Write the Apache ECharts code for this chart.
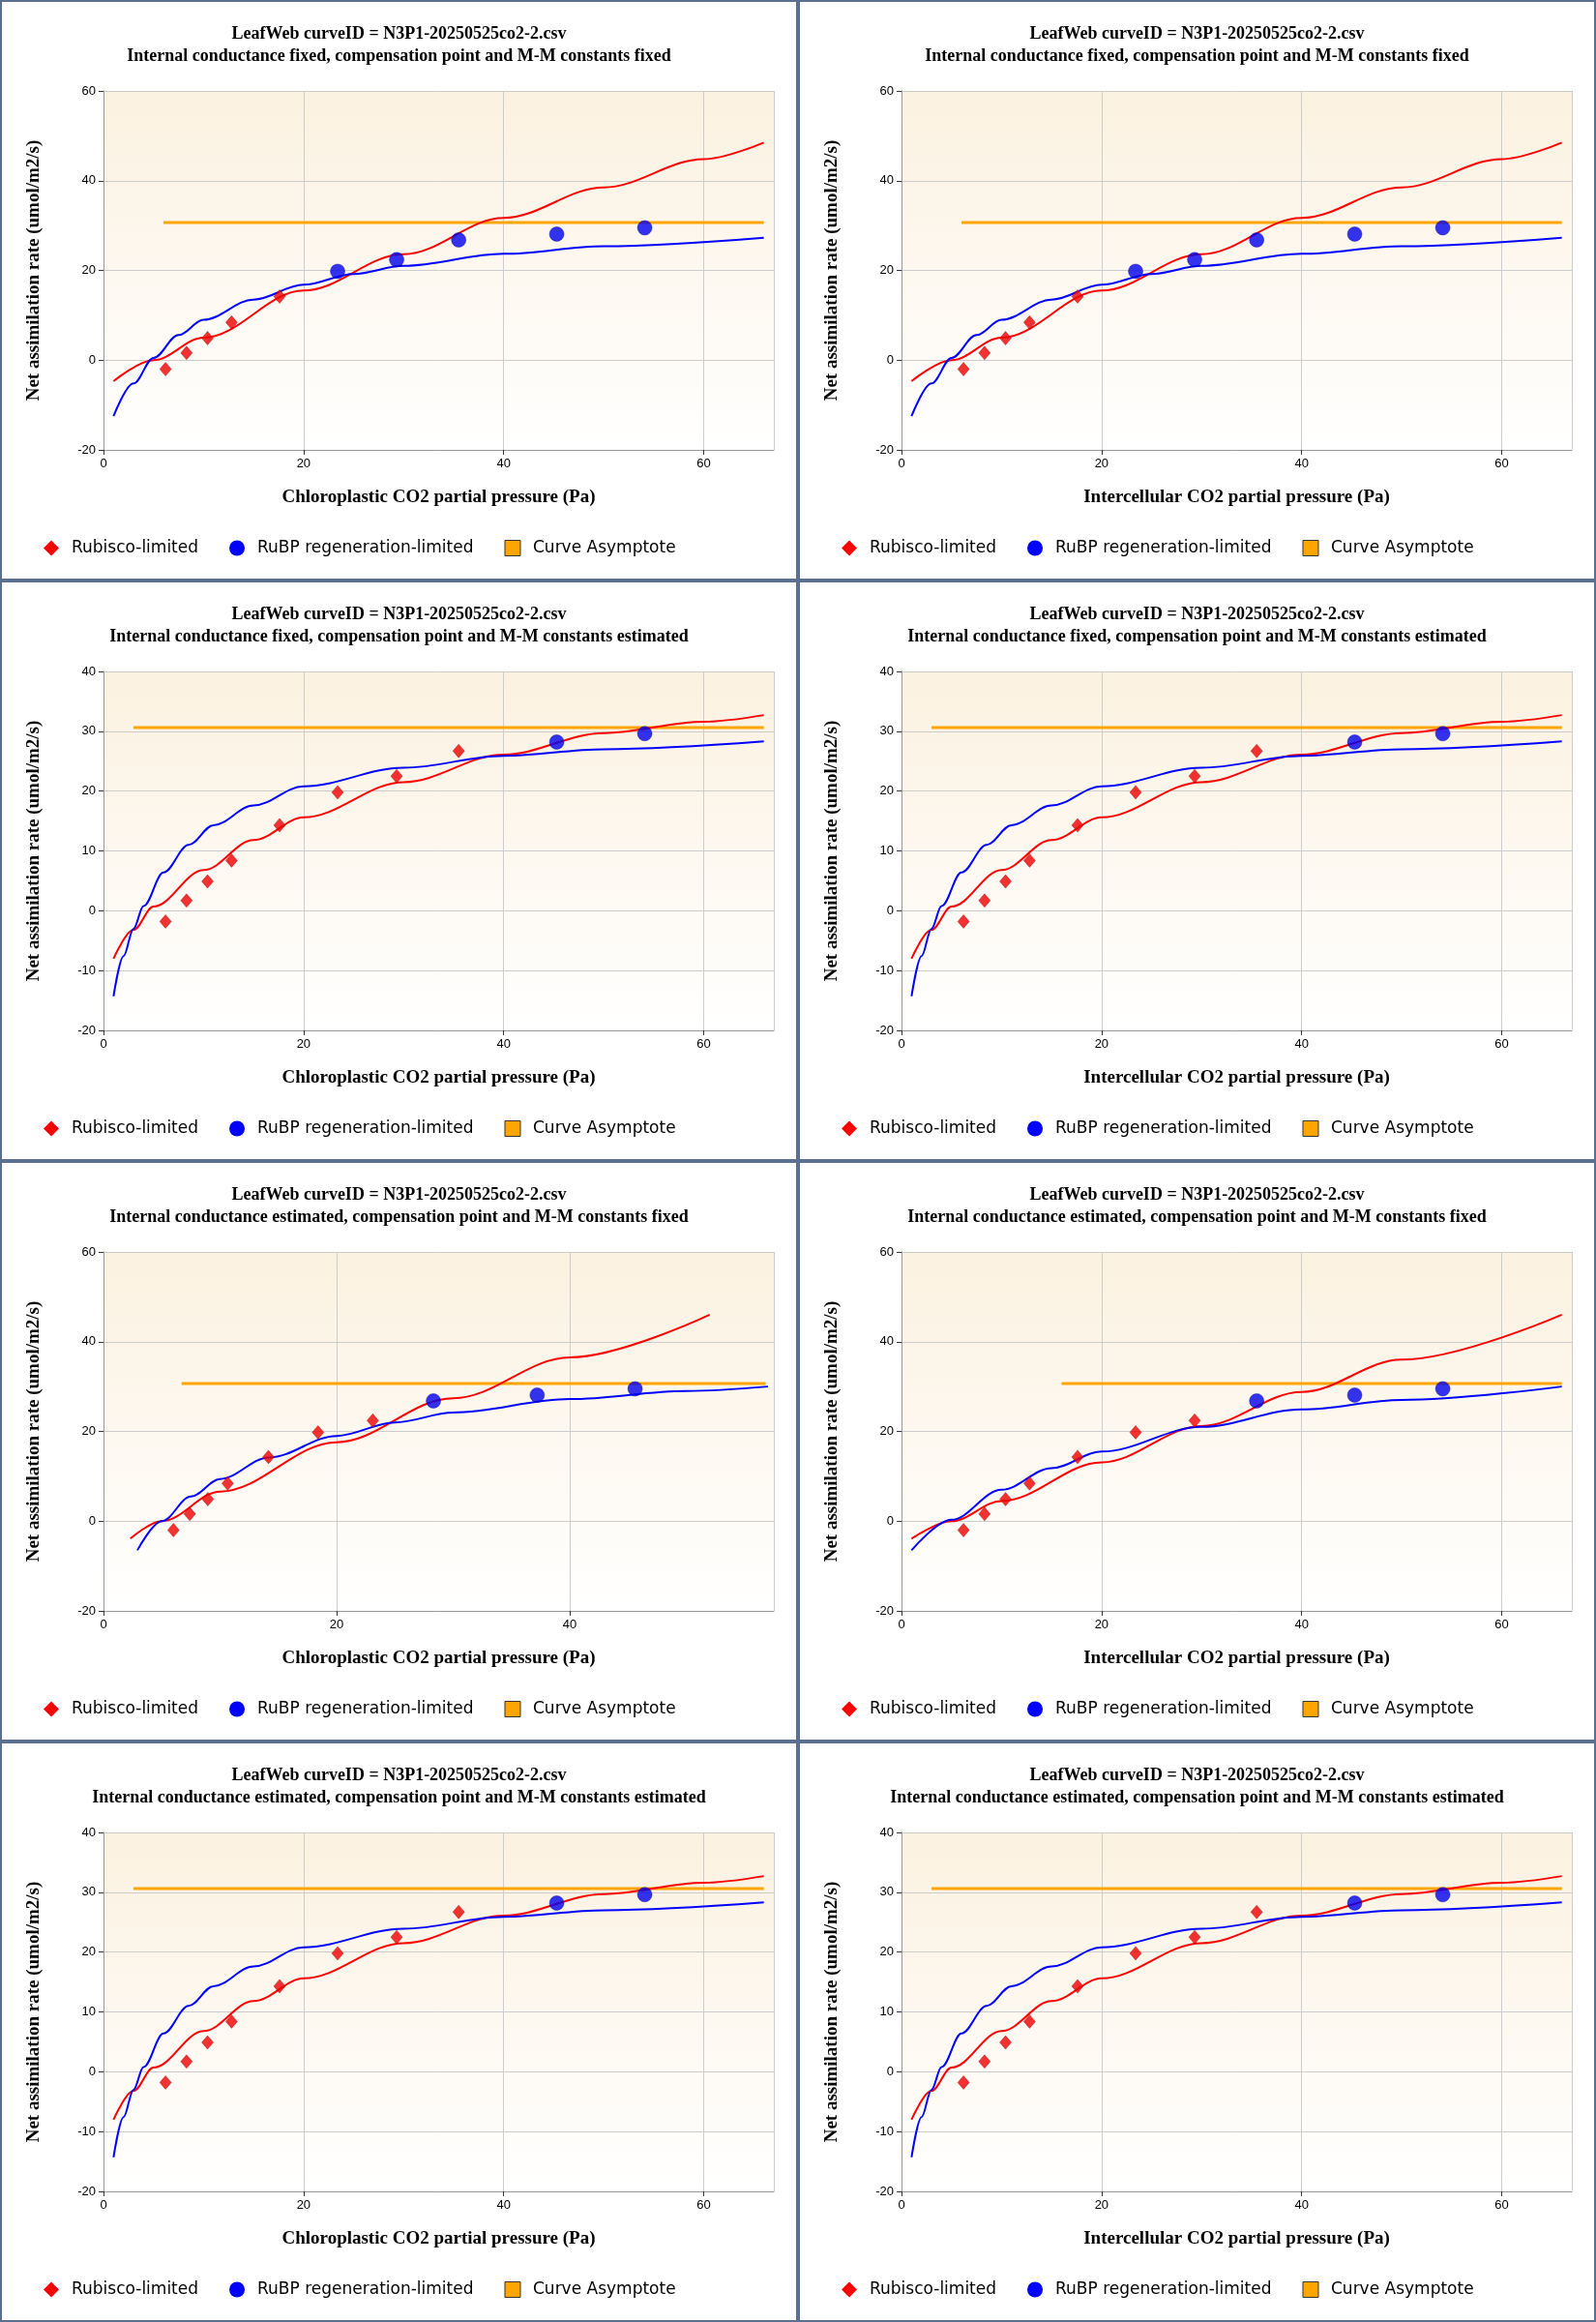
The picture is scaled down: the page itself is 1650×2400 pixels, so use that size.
<!DOCTYPE html>
<html>
<head>
<meta charset="utf-8">
<script src="https://cdn.jsdelivr.net/npm/echarts@6/dist/echarts.min.js"></script>
<style>
  html, body { margin: 0; padding: 0; background: #fff; }
  #wrap { position: relative; width: 1650px; height: 2400px; }
  .panel { position: absolute; width: 825px; height: 600px; box-sizing: border-box; border: 2px solid #5b6f8f; }
</style>
</head>
<body>
<div id="wrap"></div>
<script>
// ---- data ----
var fileTitle = 'LeafWeb curveID = N3P1-20250525co2-2.csv';
var subtitles = [
  'Internal conductance fixed, compensation point and M-M constants fixed',
  'Internal conductance fixed, compensation point and M-M constants estimated',
  'Internal conductance estimated, compensation point and M-M constants fixed',
  'Internal conductance estimated, compensation point and M-M constants estimated'
];
var xNames = ['Chloroplastic CO2 partial pressure (Pa)', 'Intercellular CO2 partial pressure (Pa)'];

// set A: gi fixed, params fixed
var aRubisco = [[6.2, -2.0], [8.3, 1.6], [10.4, 4.9], [12.8, 8.4], [17.6, 14.2]];
var aRubp = [[23.4, 19.8], [29.3, 22.4], [35.5, 26.8], [45.3, 28.1], [54.1, 29.5]];
var aAsym = [[6.0, 30.7], [66, 30.7]];
var aRedCurve = [[1, -4.7], [5, 0], [10, 5.0], [20, 15.5], [30, 23.6], [40, 31.7], [50, 38.5], [60, 44.8], [66, 48.5]];
var aBlueCurve = [[1, -12.5], [3, -5.2], [5, 0.5], [7.5, 5.6], [10, 9.0], [15, 13.5], [20, 16.8], [25, 19.2], [30, 21.0], [40, 23.7], [50, 25.4], [66, 27.3]];

// set B: params estimated
var bRubisco = [[6.2, -1.8], [8.3, 1.7], [10.4, 4.9], [12.8, 8.4], [17.6, 14.3], [23.4, 19.8], [29.3, 22.5], [35.5, 26.7]];
var bRubp = [[45.3, 28.2], [54.1, 29.6]];
var bAsym = [[3.0, 30.6], [66, 30.6]];
var bRedCurve = [[1, -8.0], [3, -3.2], [5, 0.7], [10, 6.8], [15, 11.8], [20, 15.6], [30, 21.5], [40, 26.1], [50, 29.7], [60, 31.6], [66, 32.7]];
var bBlueCurve = [[1, -14.3], [2, -7.6], [3, -3.0], [4, 0.8], [6, 6.4], [8.5, 11.0], [11, 14.3], [15, 17.6], [20, 20.8], [30, 23.9], [40, 25.9], [50, 27.0], [66, 28.3]];

// set C: gi estimated, params fixed, chloroplastic
var cRubisco = [[6.0, -2.0], [7.4, 1.6], [8.95, 4.9], [10.65, 8.4], [14.15, 14.3], [18.4, 19.8], [23.1, 22.4]];
var cRubp = [[28.3, 26.8], [37.2, 28.1], [45.6, 29.5]];
var cAsym = [[6.7, 30.7], [56.8, 30.7]];
var cRedCurve = [[2.3, -3.9], [5, 0], [10, 6.6], [20, 17.6], [30, 27.4], [40, 36.5], [52, 46.0]];
var cBlueCurve = [[2.9, -6.5], [5, 0], [7.5, 5.5], [10, 9.4], [14.2, 14.2], [20, 19.0], [25, 22.0], [30, 24.2], [40, 27.2], [50, 29.0], [57, 30.0]];

// set D: gi estimated, params fixed, intercellular
var dRubisco = [[6.2, -2.0], [8.3, 1.6], [10.4, 4.9], [12.8, 8.4], [17.6, 14.3], [23.4, 19.8], [29.3, 22.4]];
var dRubp = [[35.5, 26.8], [45.3, 28.1], [54.1, 29.5]];
var dAsym = [[16.0, 30.7], [66, 30.7]];
var dRedCurve = [[1, -3.9], [5, 0], [10, 4.5], [20, 13.1], [30, 21.2], [40, 28.8], [50, 36.0], [66, 46.0]];
var dBlueCurve = [[1, -6.5], [5, 0.3], [10, 7.0], [15, 11.8], [20, 15.5], [30, 21.0], [40, 24.9], [50, 27.0], [66, 30.0]];

var panels = [
  { sub: 0, xn: 0, xmax: 67, ymin: -20, ymax: 60, yint: 20, d: [aRubisco, aRubp, aAsym, aRedCurve, aBlueCurve] },
  { sub: 0, xn: 1, xmax: 67, ymin: -20, ymax: 60, yint: 20, d: [aRubisco, aRubp, aAsym, aRedCurve, aBlueCurve] },
  { sub: 1, xn: 0, xmax: 67, ymin: -20, ymax: 40, yint: 10, d: [bRubisco, bRubp, bAsym, bRedCurve, bBlueCurve] },
  { sub: 1, xn: 1, xmax: 67, ymin: -20, ymax: 40, yint: 10, d: [bRubisco, bRubp, bAsym, bRedCurve, bBlueCurve] },
  { sub: 2, xn: 0, xmax: 57.5, ymin: -20, ymax: 60, yint: 20, d: [cRubisco, cRubp, cAsym, cRedCurve, cBlueCurve] },
  { sub: 2, xn: 1, xmax: 67, ymin: -20, ymax: 60, yint: 20, d: [dRubisco, dRubp, dAsym, dRedCurve, dBlueCurve] },
  { sub: 3, xn: 0, xmax: 67, ymin: -20, ymax: 40, yint: 10, d: [bRubisco, bRubp, bAsym, bRedCurve, bBlueCurve] },
  { sub: 3, xn: 1, xmax: 67, ymin: -20, ymax: 40, yint: 10, d: [bRubisco, bRubp, bAsym, bRedCurve, bBlueCurve] }
];

var wrap = document.getElementById('wrap');
panels.forEach(function (p, i) {
  var div = document.createElement('div');
  div.className = 'panel';
  div.style.left = (i % 2) * 825 + 'px';
  div.style.top = Math.floor(i / 2) * 600 + 'px';
  wrap.appendChild(div);
  var chart = echarts.init(div, null, { renderer: 'canvas' });
  var axisLabel = { color: '#000', fontFamily: 'Liberation Sans Narrow, Liberation Sans', fontSize: 13 };
  var curve = { type: 'line', smooth: 0.35, smoothMonotone: 'x', symbol: 'none', z: 2 };
  chart.setOption({
    animation: false,
    title: {
      text: fileTitle + '\n' + subtitles[p.sub],
      left: 'center', top: 17,
      textStyle: { fontFamily: 'Liberation Serif', fontWeight: 'bold', fontSize: 18, color: '#000', lineHeight: 23 }
    },
    legend: {
      left: 38, top: 551, itemGap: 32, itemWidth: 16, itemHeight: 16,
      textStyle: { fontFamily: 'DejaVu Sans', fontSize: 17, color: '#000', padding: [0, 0, 0, 8] },
      data: [
        { name: 'Rubisco-limited', icon: 'diamond' },
        { name: 'RuBP regeneration-limited', icon: 'circle' },
        { name: 'Curve Asymptote', icon: 'rect', itemStyle: { borderColor: '#333', borderWidth: 1 } }
      ]
    },
    grid: {
      left: 105, right: 23, top: 92, bottom: 133, show: true, borderWidth: 0,
      backgroundColor: new echarts.graphic.LinearGradient(0, 0, 0, 1, [
        { offset: 0, color: '#fbf1e0' }, { offset: 1, color: '#ffffff' }
      ])
    },
    xAxis: {
      type: 'value', min: 0, max: p.xmax, interval: 20,
      name: xNames[p.xn], nameLocation: 'middle', nameGap: 40,
      nameTextStyle: { fontFamily: 'Liberation Serif', fontWeight: 'bold', fontSize: 19, color: '#000' },
      axisLine: { onZero: false, lineStyle: { color: '#999' } },
      axisTick: { show: true, lineStyle: { color: '#333' } },
      axisLabel: Object.assign({ showMaxLabel: false }, axisLabel),
      splitLine: { show: true, lineStyle: { color: '#ccc' } }
    },
    yAxis: {
      type: 'value', min: p.ymin, max: p.ymax, interval: p.yint,
      name: 'Net assimilation rate (umol/m2/s)', nameLocation: 'middle', nameGap: 62,
      nameTextStyle: { fontFamily: 'Liberation Serif', fontWeight: 'bold', fontSize: 19, color: '#000' },
      axisLine: { show: true, lineStyle: { color: '#999' } },
      axisTick: { show: true, lineStyle: { color: '#333' } },
      axisLabel: axisLabel,
      splitLine: { show: true, lineStyle: { color: '#ccc' } }
    },
    series: [
      { name: 'Curve Asymptote', type: 'line', data: p.d[2], symbol: 'none', color: '#ffa500',
        lineStyle: { width: 3, color: '#ffa500' }, z: 1 },
      Object.assign({ name: 'Rubisco-limited', data: p.d[3], color: '#ff0000',
        lineStyle: { width: 2, color: '#ff0000' } }, curve),
      Object.assign({ name: 'RuBP regeneration-limited', data: p.d[4], color: '#0000ff',
        lineStyle: { width: 2, color: '#0000ff' } }, curve),
      { name: 'Rubisco-limited', type: 'scatter', data: p.d[0], symbol: 'diamond', symbolSize: [12, 14],
        itemStyle: { color: '#ee0000', borderColor: '#990000', borderWidth: 0.5 }, z: 3 },
      { name: 'RuBP regeneration-limited', type: 'scatter', data: p.d[1], symbol: 'circle', symbolSize: 15,
        itemStyle: { color: '#0000ee', borderColor: '#000099', borderWidth: 0.5 }, z: 3 }
    ]
  });
});
</script>
</body>
</html>
